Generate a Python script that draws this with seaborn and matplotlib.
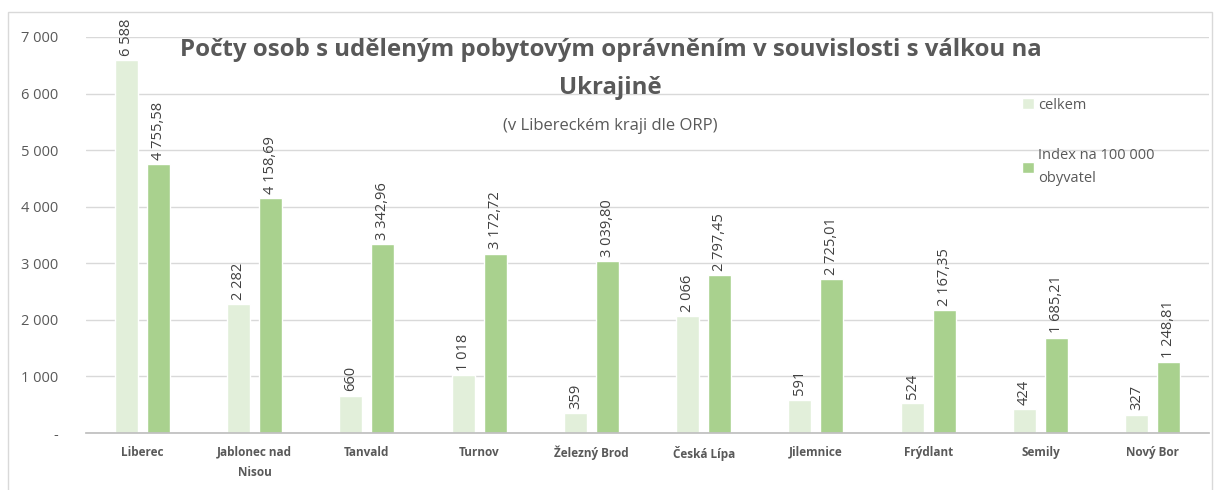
import pandas as pd
import seaborn as sns
import matplotlib.pyplot as plt
from matplotlib.patches import Rectangle
from matplotlib.ticker import FuncFormatter

# data
mesta = ['Liberec', 'Jablonec nad\nNisou', 'Tanvald', 'Turnov', 'Železný Brod',
         'Česká Lípa', 'Jilemnice', 'Frýdlant', 'Semily', 'Nový Bor']
celkem = [6588, 2282, 660, 1018, 359, 2066, 591, 524, 424, 327]
index_100k = [4755.58, 4158.69, 3342.96, 3172.72, 3039.80,
              2797.45, 2725.01, 2167.35, 1685.21, 1248.81]
serie = ['celkem', 'Index na 100 000\nobyvatel']
barvy = ['#E2EFDA', '#A9D18E']

df = pd.DataFrame({
    'ORP': mesta * 2,
    'hodnota': celkem + index_100k,
    'serie': [serie[0]] * len(mesta) + [serie[1]] * len(mesta),
})

sns.set_theme(style='white')
plt.rcParams['font.family'] = ['Open Sans', 'DejaVu Sans']
sedy = '#595959'

fig = plt.figure(figsize=(12.21, 4.9), dpi=100)
ax = fig.add_axes([86 / 1221, 1 - 433 / 490, (1209 - 86) / 1221, (433 - 37) / 490])

sns.barplot(data=df, x='ORP', y='hodnota', hue='serie', palette=barvy,
            width=0.57, gap=0.28, saturation=1, ax=ax, legend=False)

ax.set_ylim(0, 7000)
ax.set_xlim(-0.5, len(mesta) - 0.5)
ax.set_yticks(range(0, 7001, 1000))
ax.yaxis.set_major_formatter(FuncFormatter(
    lambda v, p: '-' if v == 0 else f'{int(v):,}'.replace(',', ' ')))
ax.grid(axis='y', color='#d9d9d9', linewidth=1)
ax.set_axisbelow(True)
for s in ['top', 'right', 'left']:
    ax.spines[s].set_visible(False)
ax.spines['bottom'].set_color('#bfbfbf')
ax.tick_params(axis='y', length=0, labelsize=10.5, labelcolor=sedy, pad=20)
ax.tick_params(axis='x', length=0, labelsize=8.5, labelcolor=sedy, pad=9)
for t in ax.get_xticklabels():
    t.set_fontweight('bold')
    t.set_linespacing(1.7)
ax.set_xlabel('')
ax.set_ylabel('')

# popisky hodnot
fmt_celkem = [f'{v:,}'.replace(',', ' ') for v in celkem]
fmt_index = [f'{v:,.2f}'.replace(',', ' ').replace('.', ',') for v in index_100k]
ax.bar_label(ax.containers[0], labels=fmt_celkem, rotation=90, padding=3,
             fontsize=10.5, color='#404040')
ax.bar_label(ax.containers[1], labels=fmt_index, rotation=90, padding=3,
             fontsize=10.5, color='#404040')

leg = ax.legend(handles=[ax.containers[0].patches[0], ax.containers[1].patches[0]],
                labels=serie, loc='upper left', bbox_to_anchor=(0.822, 0.88),
                frameon=False, fontsize=10.5, labelcolor=sedy, handlelength=0.8,
                handleheight=0.8, handletextpad=0.3, labelspacing=2.4)
for t in leg.get_texts():
    t.set_linespacing(1.8)

fig.text(0.5, 1 - 50 / 490,
         'Počty osob s uděleným pobytovým oprávněním v souvislosti s válkou na',
         ha='center', va='center', fontsize=17.3, fontweight='bold', color=sedy)
fig.text(0.5, 1 - 88 / 490, 'Ukrajině', ha='center', va='center',
         fontsize=17.3, fontweight='bold', color=sedy)
fig.text(0.5, 1 - 126 / 490, '(v Libereckém kraji dle ORP)', ha='center',
         va='center', fontsize=12, color=sedy)

fig.patches.append(Rectangle((8 / 1221, -0.05), (1212 - 8) / 1221, 1.05 - 12 / 490,
                             transform=fig.transFigure, fill=False,
                             edgecolor='#d9d9d9', linewidth=1))

fig.savefig('out.png', dpi=100)
